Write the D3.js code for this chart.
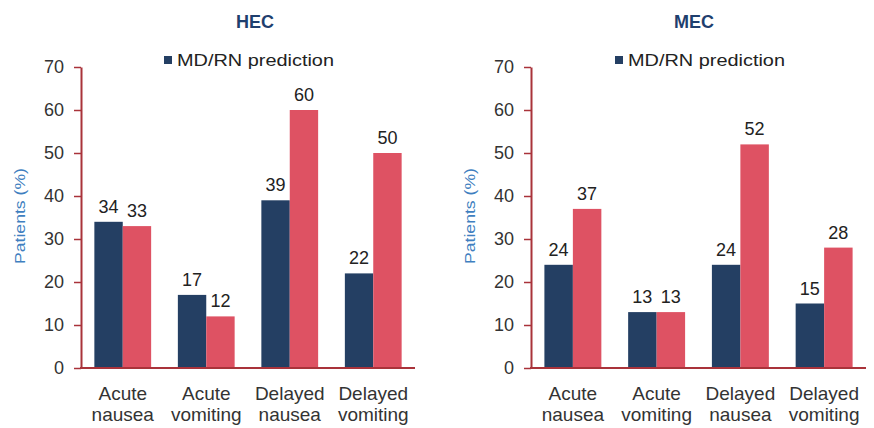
<!DOCTYPE html>
<html><head><meta charset="utf-8">
<script src="https://cdn.jsdelivr.net/npm/d3@7"></script>
<style>body{margin:0;background:#fff}svg{display:block}text{font-family:Arial,"Liberation Sans",sans-serif}</style>
</head><body><svg id="c" width="874" height="428"></svg>
<script>
const categories = ["Acute nausea", "Acute vomiting", "Delayed nausea", "Delayed vomiting"];
const hecMdRn = [34, 17, 39, 22];
const hecPatient = [33, 12, 60, 50];
const mecMdRn = [24, 13, 24, 15];
const mecPatient = [37, 13, 52, 28];
const yTicks = [0, 10, 20, 30, 40, 50, 60, 70];
const titles = ["HEC", "MEC"];
const legendLabel = "MD/RN prediction";
const yLabel = "Patients (%)";

const svg = d3.select("#c");
const colors = ["#243f63", "#de5263"];
const axisColor = "#a9333a";
const FONT = "Arial,'Liberation Sans',sans-serif";

const panels = [
  {title: titles[0], a: hecMdRn, b: hecPatient, x0: 81, x1: 415, tx: 255, lx: 168},
  {title: titles[1], a: mecMdRn, b: mecPatient, x0: 531, x1: 866, tx: 694, lx: 619}
];

panels.forEach(p => {
  const g = svg.append("g");
  const y = d3.scaleLinear().domain([0, 70]).range([368, 67]);
  const x = d3.scaleBand().domain(categories).range([p.x0, p.x1]).paddingInner(0.32).paddingOuter(0.16);
  const xs = d3.scaleBand().domain([0, 1]).range([0, x.bandwidth()]);

  g.append("text").attr("x", p.tx).attr("y", 28).attr("text-anchor", "middle")
    .attr("font-size", 18).attr("font-weight", "bold").attr("fill", "#1f3f6e").text(p.title);

  g.append("rect").attr("x", p.lx - 4).attr("y", 56).attr("width", 8).attr("height", 8).attr("fill", colors[0]);
  g.append("text").attr("x", p.lx + 9).attr("y", 65.5).attr("font-size", 17).attr("fill", "#222")
    .attr("textLength", 157).attr("lengthAdjust", "spacingAndGlyphs").text(legendLabel);

  g.append("text").attr("transform", `translate(${p.x0 - 56},216) rotate(-90)`).attr("text-anchor", "middle")
    .attr("font-size", 15).attr("fill", "#3f7fc0")
    .attr("textLength", 96).attr("lengthAdjust", "spacingAndGlyphs").text(yLabel);

  const yAxis = g.append("g").attr("transform", `translate(${p.x0},0)`)
    .call(d3.axisLeft(y).tickValues(yTicks).tickSize(7).tickSizeOuter(0).tickPadding(9));
  yAxis.select(".domain").attr("stroke", axisColor).attr("stroke-width", 2);
  yAxis.selectAll(".tick line").attr("stroke", axisColor).attr("stroke-width", 1.5);
  yAxis.selectAll(".tick text").attr("font-size", 18).attr("fill", "#333").attr("font-family", FONT)
    .attr("transform", "translate(-1,0)");

  [p.a, p.b].forEach((vals, si) => {
    g.selectAll(null).data(vals).enter().append("rect")
      .attr("x", (d, i) => x(categories[i]) + xs(si)).attr("width", xs.bandwidth())
      .attr("y", d => y(d)).attr("height", d => y(0) - y(d)).attr("fill", colors[si]);
    g.selectAll(null).data(vals).enter().append("text")
      .attr("x", (d, i) => x(categories[i]) + xs(si) + xs.bandwidth() / 2)
      .attr("y", d => y(d) - 9).attr("text-anchor", "middle")
      .attr("font-size", 18).attr("fill", "#222").text(d => d);
  });

  g.append("line").attr("x1", p.x0 - 1).attr("x2", p.x1).attr("y1", y(0)).attr("y2", y(0))
    .attr("stroke", axisColor).attr("stroke-width", 2);

  categories.forEach(c => {
    const parts = c.split(" ");
    const t = g.append("text").attr("x", x(c) + x.bandwidth() / 2).attr("y", 400)
      .attr("text-anchor", "middle").attr("font-size", 19).attr("fill", "#333");
    parts.forEach((w, k) => t.append("tspan").attr("x", x(c) + x.bandwidth() / 2).attr("dy", k ? 21 : 0).text(w));
  });
});
</script></body></html>
